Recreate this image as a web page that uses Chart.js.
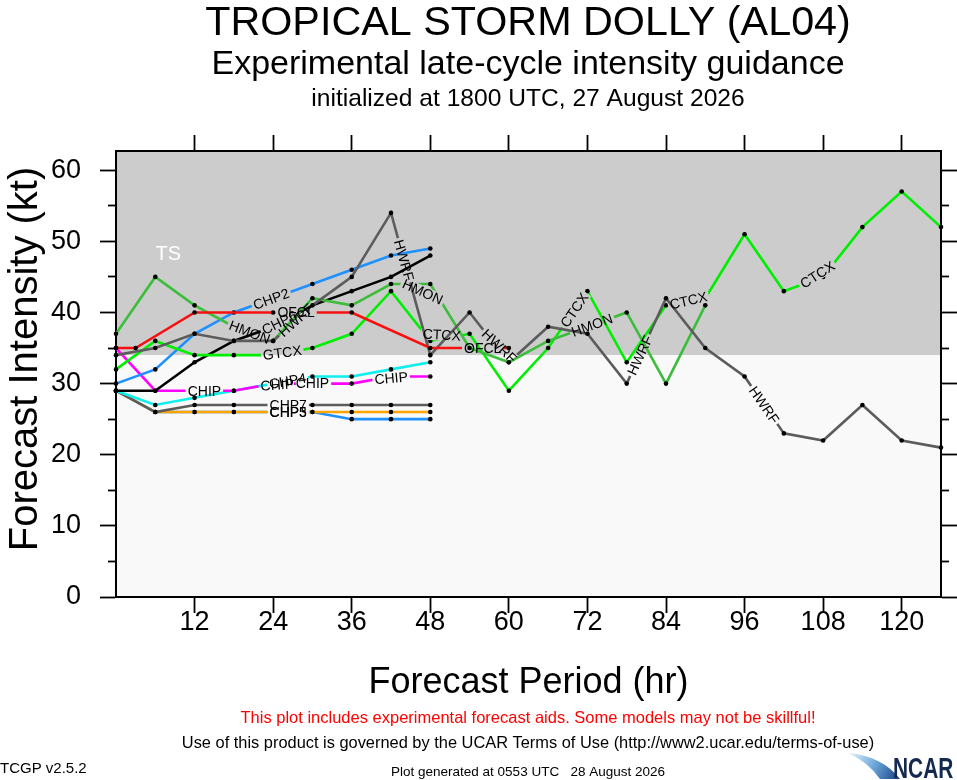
<!DOCTYPE html>
<html>
<head>
<meta charset="utf-8">
<title>Tropical Storm Dolly - late-cycle intensity guidance</title>
<script src="https://cdn.jsdelivr.net/npm/chart.js@4.4.1/dist/chart.umd.min.js"></script>
<style>
  html, body { margin: 0; padding: 0; background: #fff; }
  canvas { display: block; }
</style>
</head>
<body>
<canvas id="guidance" width="957" height="780"></canvas>
<script>
// forecast hours
const hours6 = [0, 6, 12, 18, 24, 30, 36, 42, 48, 54, 60, 66, 72, 78, 84, 90, 96, 102, 108, 114, 120, 126];
const hoursOfcl = [0, 3, 12, 24, 36, 48, 60];

// intensity (kt), one list per aid
const ofcl = [35, 35, 40, 40, 40, 35, 35];
const hwrf = [34, 35, 37, 36, 36, 41, 45, 54, 34, 40, 33, 38, 37, 30, 42, 35, 31, 23, 22, 27, 22, 21];
const hmon = [37, 45, 41, 38, 36, 42, 41, 44, 44, 35, 33, 36, 38, 40, 30, 41];
const ctcx = [32, 36, 34, 34, 34, 35, 37, 43, 36, 37, 29, 35, 43, 33, 41, 42, 51, 43, 45, 52, 57, 52];
const chp2 = [30, 32, 37, 40, 42, 44, 46, 48, 49];
const chp6 = [29, 29, 33, 36, 38, 41, 43, 45, 48];
const chip = [35, 29, 29, 29, 30, 30, 30, 31, 31];
const chp4 = [29, 27, 28, 29, 30, 31, 31, 32, 33];
const chp7 = [29, 26, 27, 27, 27, 27, 27, 27, 27];
const chp5 = [29, 26, 26, 26, 26, 26, 26, 26, 26];
const chp3 = [29, 26, 26, 26, 26, 26, 25, 25, 25];

// axes
const xTicks = [12, 24, 36, 48, 60, 72, 84, 96, 108, 120];
const yTicks = [0, 10, 20, 30, 40, 50, 60];
const yMinorTicks = [5, 15, 25, 35, 45, 55];
const xMax = 126;
const yMax = 62.7;
const tsThreshold = 34;   // tropical storm shading starts here

const FONT = "'Liberation Sans', Arial, Helvetica, sans-serif";
Chart.defaults.font.family = FONT;
Chart.defaults.color = '#000';

function series(name, hours, values, color, tagAt, tagNames) {
  return {
    label: name,
    data: values.map((v, i) => ({ x: hours[i], y: v })),
    borderColor: color,
    backgroundColor: color,
    borderWidth: 2.6,
    pointRadius: 2.3,
    pointBorderWidth: 0,
    pointBackgroundColor: '#000',
    tension: 0,
    fill: false,
    clip: false,
    tagAt: tagAt,
    tagNames: tagNames
  };
}

// first dataset is drawn on top
const datasets = [
  series('OFCL', hoursOfcl, ofcl, '#f81010', [27.5, 56]),
  series('HWRF', hours6, hwrf, '#5c5c5c', [27.5, 44, 58.5, 80, 99]),
  series('HMON', hours6, hmon, '#3cbe3c', [20.4, 47.5, 72.7]),
  series('CTCX', hours6, ctcx, '#00ee00', [25.4, 49.5, 70, 87.5, 107.5], ['GTCX']),
  series('CHP6', hours6, chp6, '#000000', [25]),
  series('CHP2', hours6, chp2, '#1e90ff', [23.7]),
  series('CHIP', hours6, chip, '#ff00ff', [13.5, 24.6, 30, 42]),
  series('CHP4', hours6, chp4, '#10eeee', [26.2]),
  series('CHP7', hours6, chp7, '#5c5c5c', [26.3]),
  series('CHP5', hours6, chp5, '#ffa500', [26.3]),
  series('CHP3', hours6, chp3, '#1e90ff', [26.3])
];

// ---- line labels placed along each curve (line is broken under the text) ----
const TAG_FONT = '14px ' + FONT;

function pointAt(pts, cum, s) {
  const total = cum[cum.length - 1];
  s = Math.max(0, Math.min(total, s));
  for (let i = 1; i < pts.length; i++) {
    if (s <= cum[i] || i === pts.length - 1) {
      const seg = cum[i] - cum[i - 1] || 1;
      const t = (s - cum[i - 1]) / seg;
      return { x: pts[i - 1].x + t * (pts[i].x - pts[i - 1].x), y: pts[i - 1].y + t * (pts[i].y - pts[i - 1].y) };
    }
  }
  return pts[0];
}

function tagSpots(chart, index) {
  const ds = chart.data.datasets[index];
  if (!ds.tagAt) return [];
  const meta = chart.getDatasetMeta(index);
  const pts = meta.data.map(p => ({ x: p.x, y: p.y }));
  const cum = [0];
  for (let i = 1; i < pts.length; i++) {
    cum.push(cum[i - 1] + Math.hypot(pts[i].x - pts[i - 1].x, pts[i].y - pts[i - 1].y));
  }
  const ctx = chart.ctx;
  ctx.save();
  ctx.font = TAG_FONT;
  const spots = ds.tagAt.map((h, k) => {
    const text = (ds.tagNames && ds.tagNames[k]) || ds.label;
    const w = ctx.measureText(text).width;
    const px = chart.scales.x.getPixelForValue(h);
    let s0 = cum[cum.length - 1];
    for (let i = 1; i < pts.length; i++) {
      if (px <= pts[i].x) {
        const t = (px - pts[i - 1].x) / (pts[i].x - pts[i - 1].x);
        s0 = cum[i - 1] + t * (cum[i] - cum[i - 1]);
        break;
      }
    }
    const a = pointAt(pts, cum, s0 - w / 2);
    const b = pointAt(pts, cum, s0 + w / 2);
    let ang = Math.atan2(b.y - a.y, b.x - a.x);
    if (ang > Math.PI / 2) ang -= Math.PI;
    if (ang < -Math.PI / 2) ang += Math.PI;
    return { text: text, w: w, x: (a.x + b.x) / 2, y: (a.y + b.y) / 2, angle: ang };
  });
  ctx.restore();
  return spots;
}

const lineTags = {
  id: 'lineTags',
  beforeDatasetDraw(chart, args) {
    const spots = tagSpots(chart, args.index);
    const ctx = chart.ctx;
    ctx.save();
    if (!spots.length) return;
    ctx.beginPath();
    ctx.rect(0, 0, chart.width, chart.height);
    spots.forEach(s => {
      const hw = s.w / 2 + 2, hh = 6;
      const c = Math.cos(s.angle), sn = Math.sin(s.angle);
      const corner = (dx, dy) => [s.x + dx * c - dy * sn, s.y + dx * sn + dy * c];
      const p = [corner(-hw, -hh), corner(hw, -hh), corner(hw, hh), corner(-hw, hh)];
      ctx.moveTo(p[0][0], p[0][1]);
      for (let i = 1; i < 4; i++) ctx.lineTo(p[i][0], p[i][1]);
      ctx.closePath();
    });
    ctx.clip('evenodd');
  },
  afterDatasetDraw(chart) {
    chart.ctx.restore();
  },
  afterDatasetsDraw(chart) {
    const ctx = chart.ctx;
    ctx.save();
    ctx.font = TAG_FONT;
    ctx.fillStyle = '#000';
    ctx.textAlign = 'center';
    ctx.textBaseline = 'middle';
    for (let i = chart.data.datasets.length - 1; i >= 0; i--) {
      tagSpots(chart, i).forEach(s => {
        ctx.save();
        ctx.translate(s.x, s.y);
        ctx.rotate(s.angle);
        ctx.fillText(s.text, 0, 1);
        ctx.restore();
      });
    }
    // storm category marker
    ctx.font = '20px ' + FONT;
    ctx.fillStyle = '#fff';
    ctx.fillText('TS', chart.scales.x.getPixelForValue(8), chart.scales.y.getPixelForValue(48.2));
    ctx.restore();
  }
};

// ---- background shading: gray above the TS threshold ----
const shading = {
  id: 'shading',
  beforeDraw(chart) {
    const { ctx, chartArea: a } = chart;
    const yTs = chart.scales.y.getPixelForValue(tsThreshold);
    ctx.save();
    ctx.fillStyle = '#fff';
    ctx.fillRect(0, 0, chart.width, chart.height);
    ctx.fillStyle = '#cccccc';
    ctx.fillRect(a.left, a.top, a.right - a.left, yTs - a.top);
    ctx.fillStyle = '#f9f9f9';
    ctx.fillRect(a.left, yTs, a.right - a.left, a.bottom - yTs);
    ctx.restore();
  }
};

// ---- titles and footer ----
const texts = {
  id: 'texts',
  afterDraw(chart) {
    const ctx = chart.ctx;
    const cx = 528;
    ctx.save();
    ctx.textAlign = 'center';
    ctx.textBaseline = 'alphabetic';
    ctx.fillStyle = '#000';
    ctx.font = '41.3px ' + FONT;
    ctx.fillText('TROPICAL STORM DOLLY (AL04)', cx, 35);
    ctx.font = '34px ' + FONT;
    ctx.fillText('Experimental late-cycle intensity guidance', cx, 74);
    ctx.font = '24.6px ' + FONT;
    ctx.fillText('initialized at 1800 UTC, 27 August 2026', cx, 106);

    // y axis title
    ctx.save();
    ctx.font = '40px ' + FONT;
    ctx.translate(37, 359);
    ctx.rotate(-Math.PI / 2);
    ctx.fillText('Forecast Intensity (kt)', 0, 0);
    ctx.restore();

    ctx.font = '16.5px ' + FONT;
    ctx.fillStyle = '#ff0000';
    ctx.fillText('This plot includes experimental forecast aids. Some models may not be skillful!', cx, 723);
    ctx.fillStyle = '#000';
    ctx.font = '16.4px ' + FONT;
    ctx.fillText('Use of this product is governed by the UCAR Terms of Use (http://www2.ucar.edu/terms-of-use)', cx, 748);
    ctx.font = '13.5px ' + FONT;
    ctx.fillText('Plot generated at 0553 UTC   28 August 2026', cx, 776);
    ctx.textAlign = 'left';
    ctx.font = '15px ' + FONT;
    ctx.fillText('TCGP v2.5.2', 0, 773);

    // NCAR logo
    const g = ctx.createLinearGradient(850, 752, 900, 778);
    g.addColorStop(0, '#e4f1fa');
    g.addColorStop(0.5, '#6aa6d8');
    g.addColorStop(1, '#173f86');
    ctx.fillStyle = g;
    ctx.beginPath();
    ctx.moveTo(848, 753);
    ctx.quadraticCurveTo(882, 756, 900, 779);
    ctx.lineTo(880, 779);
    ctx.quadraticCurveTo(868, 762, 848, 753);
    ctx.fill();
    ctx.fillStyle = '#13294f';
    ctx.font = 'bold 29px ' + FONT;
    ctx.translate(893, 778);
    ctx.scale(0.72, 1);
    ctx.fillText('NCAR', 0, 0);
    ctx.restore();
  }
};

function fixTicks(values) {
  return scale => { scale.ticks = values.map(v => ({ value: v })); };
}

const tickGrid = len => ({
  drawOnChartArea: false, drawTicks: true, tickLength: len,
  tickColor: '#000', tickWidth: 1.8
});

new Chart(document.getElementById('guidance'), {
  type: 'line',
  data: { datasets: datasets },
  options: {
    responsive: false,
    animation: false,
    layout: { padding: { top: 135, bottom: 63, left: 0, right: 0 } },
    plugins: { legend: { display: false }, tooltip: { enabled: false }, title: { display: false } },
    scales: {
      x: {
        type: 'linear', position: 'bottom', min: 0, max: xMax,
        afterBuildTicks: fixTicks(xTicks),
        ticks: { font: { size: 27 }, color: '#000', padding: -7, maxRotation: 0, autoSkip: false },
        grid: tickGrid(16),
        border: { display: true, color: '#000', width: 2 },
        title: { display: true, text: 'Forecast Period (hr)', font: { size: 36 }, color: '#000', padding: { top: 0, bottom: 12 } },
        afterFit: s => { s.height = 120; }
      },
      xTop: {
        type: 'linear', position: 'top', min: 0, max: xMax,
        afterBuildTicks: fixTicks(xTicks),
        ticks: { display: false },
        grid: tickGrid(16),
        border: { display: true, color: '#000', width: 2 },
        afterFit: s => { s.height = 16; }
      },
      y: {
        type: 'linear', position: 'left', min: 0, max: yMax, weight: 1,
        afterBuildTicks: fixTicks(yTicks),
        ticks: { font: { size: 27 }, color: '#000', padding: 19 },
        grid: tickGrid(16),
        border: { display: true, color: '#000', width: 2 },
        afterFit: s => { s.width = 116; }
      },
      yMinor: {
        type: 'linear', position: 'left', min: 0, max: yMax, weight: 0,
        afterBuildTicks: fixTicks(yMinorTicks),
        ticks: { display: false },
        grid: tickGrid(8),
        border: { display: false },
        afterFit: s => { s.width = 0; }
      },
      yRight: {
        type: 'linear', position: 'right', min: 0, max: yMax, weight: 1,
        afterBuildTicks: fixTicks(yTicks),
        ticks: { display: false },
        grid: tickGrid(16),
        border: { display: true, color: '#000', width: 2 },
        afterFit: s => { s.width = 16; }
      },
      yRightMinor: {
        type: 'linear', position: 'right', min: 0, max: yMax, weight: 0,
        afterBuildTicks: fixTicks(yMinorTicks),
        ticks: { display: false },
        grid: tickGrid(8),
        border: { display: false },
        afterFit: s => { s.width = 0; }
      }
    }
  },
  plugins: [shading, lineTags, texts]
});
</script>
</body>
</html>
